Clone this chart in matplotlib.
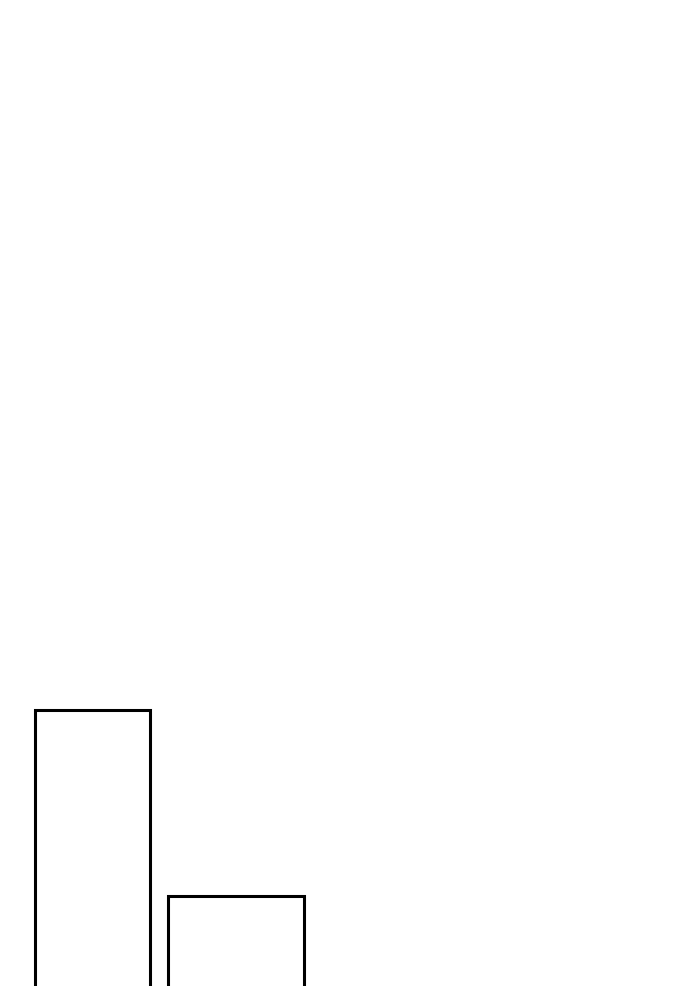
import matplotlib
matplotlib.use("Agg")
import matplotlib.pyplot as plt

# 数据：两根空心柱（顶部露出，底部被画面裁掉）
positions = [0, 1]
heights = [286, 100]
widths = [0.80, 0.95]

fig = plt.figure(figsize=(6.9, 9.86), dpi=100)
ax = fig.add_axes([0, 0, 1, 1])

ax.bar(positions, heights,
       width=widths,
       bottom=-10,
       color='white',
       edgecolor='black',
       linewidth=2.2)

# 坐标轴范围
ax.set_xlim(-0.645, 4.165)
ax.set_ylim(0, 986)
ax.axis('off')

fig.savefig("out.png", dpi=100, facecolor='white')
